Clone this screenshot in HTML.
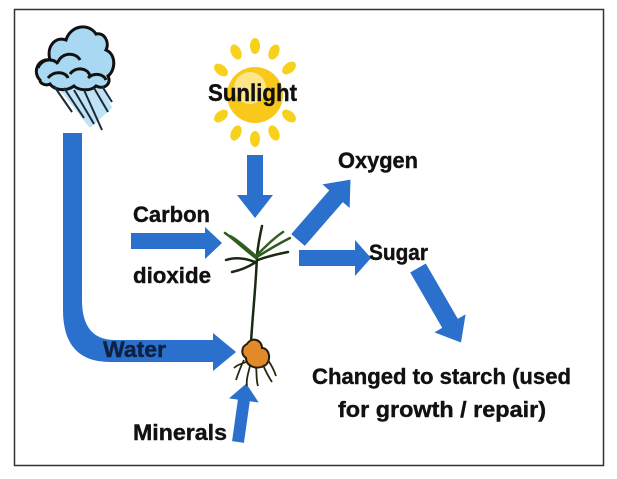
<!DOCTYPE html>
<html><head><style>
html,body{margin:0;padding:0;background:#fff;}
svg{display:block;}
text{font-family:"Liberation Sans",sans-serif;font-weight:bold;fill:#111;stroke:#111;stroke-width:0.4;}
</style></head><body>
<svg width="617" height="479" viewBox="0 0 617 479" xmlns="http://www.w3.org/2000/svg">
<rect x="14.5" y="9.5" width="589" height="456" fill="#fff" stroke="#333" stroke-width="1.5"/>
<!-- cloud -->
<g>
<path d="M52,80 L100,78 L112,108 L90,128 Z" fill="#bfe3f5"/>
<path d="M40,80 C32,72 38,58 50,60 C46,46 56,36 66,40 C70,26 88,22 96,34 C104,32 110,42 106,50 C116,54 116,70 108,76 C112,84 104,90 96,86 C90,92 78,90 74,86 C66,92 54,90 50,84 C46,86 40,84 40,80 Z" fill="#a9d8f2" stroke="#111" stroke-width="3"/>
<path d="M38,68 C42,58 54,58 58,64 M58,62 C62,52 76,52 80,60 M48,78 C54,70 66,72 68,78 M70,74 C76,66 88,68 90,76 M88,78 C94,72 104,74 106,80" fill="none" stroke="#111" stroke-width="3"/>
<g stroke="#1a2a3a" stroke-width="2">
<line x1="54" y1="86" x2="72" y2="112"/><line x1="64" y1="88" x2="84" y2="118"/>
<line x1="74" y1="90" x2="94" y2="124"/><line x1="84" y1="90" x2="102" y2="130"/>
<line x1="94" y1="88" x2="108" y2="112"/><line x1="102" y1="86" x2="112" y2="102"/>
</g>
</g>
<!-- sun -->
<g fill="#f7d21c">
<circle cx="255" cy="95" r="28" fill="#f8c81a"/>
<circle cx="250" cy="88" r="16" fill="#fde58a"/>
<ellipse cx="255" cy="46" rx="5" ry="8"/><ellipse cx="255" cy="139" rx="5" ry="8"/>
<ellipse cx="236" cy="52" rx="5" ry="8" transform="rotate(-25 236 52)"/><ellipse cx="274" cy="52" rx="5" ry="8" transform="rotate(25 274 52)"/>
<ellipse cx="236" cy="133" rx="5" ry="8" transform="rotate(25 236 133)"/><ellipse cx="274" cy="133" rx="5" ry="8" transform="rotate(-25 274 133)"/>
<ellipse cx="221" cy="70" rx="5" ry="8" transform="rotate(-50 221 70)"/><ellipse cx="289" cy="68" rx="5" ry="8" transform="rotate(50 289 68)"/>
<ellipse cx="221" cy="116" rx="5" ry="8" transform="rotate(50 221 116)"/><ellipse cx="289" cy="116" rx="5" ry="8" transform="rotate(-50 289 116)"/>
</g>
<text x="208" y="101" font-size="24" textLength="89" lengthAdjust="spacingAndGlyphs">Sunlight</text>
<!-- arrows -->
<g fill="#2a70cc">
<path d="M63,133 H82 V300 Q82,340 115,340 H213 V333 L236,352 L213,371 V362 H110 Q63,362 63,310 Z"/>
<path d="M247,155 H263 V195 H273 L255,218 L237,195 H247 Z"/>
<path d="M131,233 H205 V227 L222,243 L205,259 V249 H131 Z"/>
<path d="M299,250 H355 V240 L371,258 L355,276 V266 H299 Z"/>
<path transform="translate(298,240) rotate(-49)" d="M0,-9 H58 V-18 L80,0 L58,18 V9 H0 Z"/>
<path transform="translate(418,268) rotate(60)" d="M0,-9 H64 V-18 L86,0 L64,18 V9 H0 Z"/>
<path transform="translate(238,442) rotate(-82)" d="M0,-6 H42 V-15 L59,0 L42,15 V6 H0 Z"/>
</g>
<!-- plant -->
<g fill="none" stroke="#1a2a12" stroke-width="2.5" stroke-linecap="round">
<path d="M251,342 C253,310 256,285 257,255"/>
<path d="M257,256 C258,245 260,235 262,226"/>
<path d="M256,258 C245,250 235,240 225,233" stroke="#2e5a1e"/>
<path d="M255,262 C245,258 235,257 226,260"/>
<path d="M256,256 C246,248 238,240 230,236" stroke="#335f22"/>
<path d="M257,257 C268,250 278,244 290,238" stroke="#2e5a1e"/>
<path d="M258,260 C268,256 278,254 288,252"/>
<path d="M257,255 C266,246 274,238 283,232" stroke="#335f22"/>
<path d="M256,262 C250,266 242,270 232,272"/>
</g>
<path d="M247,344 C252,336 262,340 262,348 C270,348 272,362 264,366 C256,370 246,366 246,358 C240,354 242,346 247,344 Z" fill="#e08a2a" stroke="#2a1a0a" stroke-width="2"/>
<g stroke="#2a2a10" stroke-width="1.8" fill="none">
<path d="M244,360 C240,368 238,374 236,380"/><path d="M250,366 C248,374 246,380 247,386"/>
<path d="M256,367 C257,374 256,380 258,386"/><path d="M263,365 C266,372 268,376 272,382"/>
<path d="M268,360 C272,366 274,370 276,376"/><path d="M246,362 C242,364 238,364 234,368"/>
</g>
<!-- labels -->
<text x="338" y="168" font-size="22" textLength="80" lengthAdjust="spacingAndGlyphs">Oxygen</text>
<text x="369" y="260" font-size="22" textLength="59" lengthAdjust="spacingAndGlyphs">Sugar</text>
<text x="133" y="222" font-size="22" textLength="77" lengthAdjust="spacingAndGlyphs">Carbon</text>
<text x="133" y="283" font-size="22" textLength="78" lengthAdjust="spacingAndGlyphs">dioxide</text>
<text x="103" y="357" font-size="22" textLength="63" lengthAdjust="spacingAndGlyphs" style="fill:#102040;stroke:#102040">Water</text>
<text x="133" y="440" font-size="22" textLength="94" lengthAdjust="spacingAndGlyphs">Minerals</text>
<text x="312" y="384" font-size="22" textLength="259" lengthAdjust="spacingAndGlyphs">Changed to starch (used</text>
<text x="338" y="417" font-size="22" textLength="208" lengthAdjust="spacingAndGlyphs">for growth / repair)</text>
</svg>
</body></html>
